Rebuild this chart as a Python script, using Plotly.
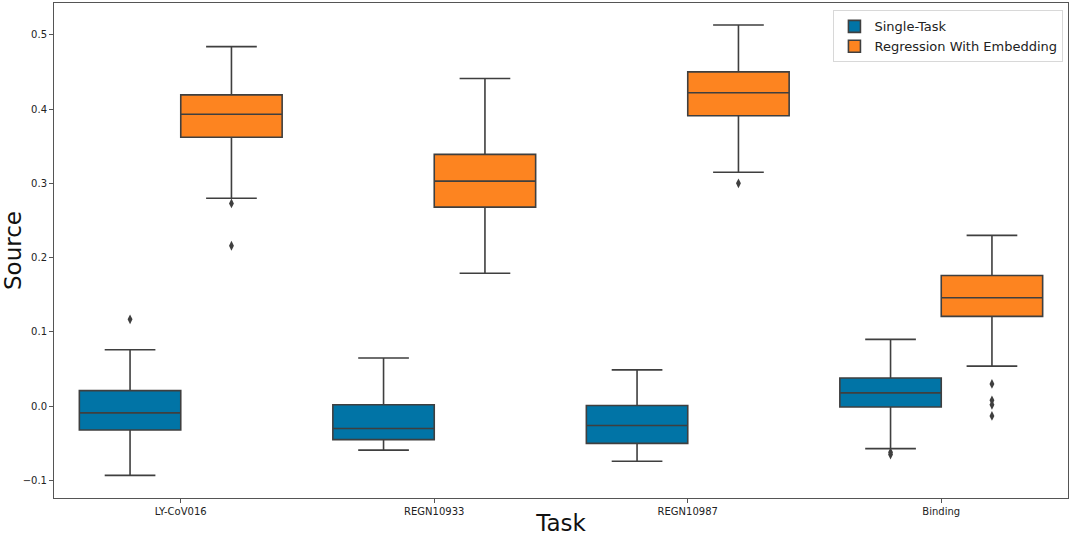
import plotly.graph_objects as go

# ---- data ----
categories = ["LY-CoV016", "REGN10933", "REGN10987", "Binding"]

single_lower = [-0.093, -0.059, -0.074, -0.057]
single_q1 = [-0.032, -0.045, -0.050, -0.001]
single_median = [-0.009, -0.030, -0.026, 0.018]
single_q3 = [0.021, 0.002, 0.001, 0.038]
single_upper = [0.076, 0.065, 0.049, 0.090]
single_out_cat = ["LY-CoV016", "Binding", "Binding"]
single_out_val = [0.117, -0.062, -0.065]

reg_lower = [0.280, 0.179, 0.315, 0.054]
reg_q1 = [0.362, 0.268, 0.391, 0.121]
reg_median = [0.393, 0.303, 0.422, 0.146]
reg_q3 = [0.419, 0.339, 0.450, 0.176]
reg_upper = [0.484, 0.441, 0.513, 0.230]
reg_out_cat = ["LY-CoV016", "LY-CoV016", "REGN10987", "Binding", "Binding", "Binding", "Binding"]
reg_out_val = [0.273, 0.216, 0.300, 0.030, 0.008, 0.002, -0.013]

series_names = ["Single-Task", "Regression With Embedding"]
colors = ["#0174a6", "#fd8420"]
edge = "#3f3f3f"
FONT = "DejaVu Sans"

fig = go.Figure()

stats = [
    (single_lower, single_q1, single_median, single_q3, single_upper),
    (reg_lower, reg_q1, reg_median, reg_q3, reg_upper),
]
outs = [(single_out_cat, single_out_val), (reg_out_cat, reg_out_val)]

for i, (name, col) in enumerate(zip(series_names, colors)):
    lo, q1, med, q3, up = stats[i]
    fig.add_trace(go.Box(
        name=name, x=categories, q1=q1, median=med, q3=q3,
        lowerfence=lo, upperfence=up,
        fillcolor=col, line=dict(color=edge, width=1.6),
        whiskerwidth=0.5, boxpoints=False,
        offsetgroup=str(i), legendgroup=str(i),
    ))

for i, name in enumerate(series_names):
    oc, ov = outs[i]
    fig.add_trace(go.Scatter(
        x=oc, y=ov, mode="markers", name=name, showlegend=False,
        marker=dict(symbol="diamond-tall", size=7, color=edge),
        offsetgroup=str(i), legendgroup=str(i),
    ))

fig.update_layout(
    width=1072, height=536,
    margin=dict(l=54, r=4, t=3, b=38),
    paper_bgcolor="white", plot_bgcolor="white",
    boxmode="group", boxgap=0.2, boxgroupgap=0,
    scattermode="group", scattergap=0.2,
    font=dict(family=FONT, color="#222"),
    legend=dict(
        x=0.9955, y=0.985, xanchor="right", yanchor="top",
        bgcolor="white", bordercolor="#d8d8d8", borderwidth=1,
        font=dict(family=FONT, size=13, color="#222"),
        tracegroupgap=0,
    ),
    showlegend=True,
)

fig.update_xaxes(
    type="category", categoryorder="array", categoryarray=categories,
    range=[-0.5, 3.5],
    showline=True, mirror=True, linecolor="#555", linewidth=1,
    ticks="outside", ticklen=4, tickcolor="#555",
    tickfont=dict(family=FONT, size=10, color="#222"),
    showgrid=False, zeroline=False,
    title=dict(text="Task", font=dict(family=FONT, size=23, color="#111"), standoff=10),
    automargin=False,
)
fig.update_yaxes(
    range=[-0.1235, 0.5427],
    tickvals=[-0.1, 0.0, 0.1, 0.2, 0.3, 0.4, 0.5], tickformat=".1f",
    showline=True, mirror=True, linecolor="#555", linewidth=1,
    ticks="outside", ticklen=4, tickcolor="#555",
    tickfont=dict(family=FONT, size=10, color="#222"),
    showgrid=False, zeroline=False,
    title=dict(text="Source", font=dict(family=FONT, size=23, color="#111"), standoff=7),
    automargin=False,
)

fig.write_html(
    "out.html",
    config={"displayModeBar": False},
    post_script="document.body.style.margin='0';document.body.style.overflow='hidden';",
)
